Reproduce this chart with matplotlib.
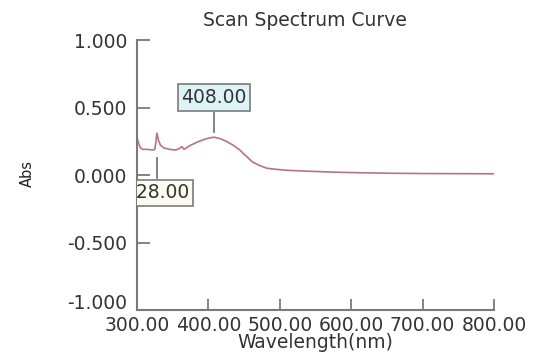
import matplotlib
matplotlib.use("Agg")
import matplotlib.pyplot as plt
from matplotlib.transforms import ScaledTranslation

# scan data (nm, absorbance)
wavelength = [300, 302, 305, 308, 315, 322, 325, 326.5, 328, 330, 333, 338, 346,
              354, 359, 363, 366, 369, 375, 385, 395, 402, 408, 416, 425, 435,
              444, 453, 462, 472, 482, 495, 510, 540, 584, 620, 654, 700, 750, 800]
absorbance = [0.28, 0.24, 0.20, 0.19, 0.19, 0.185, 0.19, 0.24, 0.31, 0.26, 0.22,
              0.20, 0.19, 0.185, 0.195, 0.21, 0.19, 0.20, 0.22, 0.245, 0.265, 0.275,
              0.28, 0.27, 0.25, 0.22, 0.185, 0.14, 0.096, 0.07, 0.05, 0.042, 0.035,
              0.028, 0.02, 0.016, 0.013, 0.011, 0.010, 0.009]

peak_wl = [408, 328]
peak_labels = ["408.00", "328.00"]

xticks = [300, 400, 500, 600, 700, 800]
yticks = [-1.0, -0.5, 0.0, 0.5, 1.0]

grey = "#7a7a7a"
txt = "#333333"

fig = plt.figure(figsize=(5.39, 3.62), dpi=100)
ax = fig.add_axes([0.254, 0.1436, 0.6625, 0.7459])

ax.plot(wavelength, absorbance, color="#b8747e", lw=1.2)

ax.set_xlim(300, 800)
ax.set_ylim(-1.0, 1.0)
ax.set_xticks(xticks)
ax.set_xticklabels(["%.2f" % v for v in xticks])
ax.set_yticks(yticks)
ax.set_yticklabels(["%.3f" % v for v in yticks])

for s in ["top", "right"]:
    ax.spines[s].set_visible(False)
for s in ["left", "bottom"]:
    ax.spines[s].set_color(grey)
    ax.spines[s].set_linewidth(1.5)

ax.tick_params(axis="y", direction="in", length=9, width=1.3, color=grey,
               pad=7, labelsize=13.5, labelcolor=txt)
ax.tick_params(axis="x", direction="in", length=8, width=1.3, color=grey,
               pad=4, labelsize=13.5, labelcolor=txt)

# lift the bottom y label so it clears the x labels
lowest = ax.get_yticklabels()[0]
lowest.set_transform(lowest.get_transform()
                     + ScaledTranslation(0, 6 / 72, fig.dpi_scale_trans))

# peak markers: leader line + boxed label
box_y = [0.574, -0.133]
line_top = [0.46, 0.126]
line_bot = [0.32, -0.02]
face = ["#dcf4f7", "#fbfbef"]
for i, wl in enumerate(peak_wl):
    ax.plot([wl, wl], [line_bot[i], line_top[i]], color=grey, lw=1.3)
    ax.text(wl, box_y[i], peak_labels[i], ha="center", va="center", fontsize=13.5,
            color=txt, clip_on=True,
            bbox=dict(boxstyle="square,pad=0.2", fc=face[i], ec=grey, lw=1.2))

fig.text(305 / 539, 1 - 20 / 362, "Scan Spectrum Curve", ha="center",
         va="center", fontsize=13.5, color=txt)
fig.text(315 / 539, 1 - 343 / 362, "Wavelength(nm)", ha="center",
         va="center", fontsize=13.5, color=txt)
fig.text(27 / 539, 1 - 173 / 362, "Abs", ha="center", va="center",
         rotation=90, fontsize=10.5, color="#222222")

fig.savefig("out.png", dpi=100)
